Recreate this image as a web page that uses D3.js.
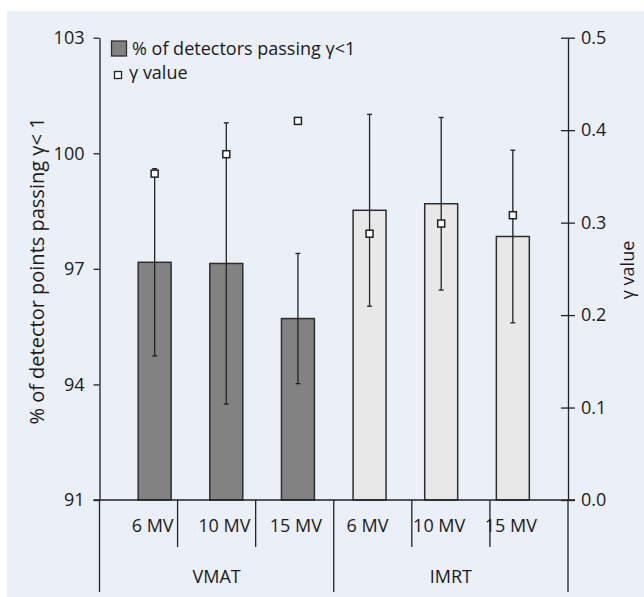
<!DOCTYPE html>
<html>
<head>
<meta charset="utf-8">
<script src="https://cdn.jsdelivr.net/npm/d3@7"></script>
<style>
  body { margin: 0; background: #fff; }
  svg text { font-family: "Open Sans", sans-serif; fill: #1a1a1a; }
</style>
</head>
<body>
<div id="chart"></div>
<script>
// data
const groups = ['VMAT', 'IMRT'];
const energies = ['6 MV', '10 MV', '15 MV'];
const passRate = [97.17, 97.14, 95.71, 98.52, 98.69, 97.84];   // % of detectors passing γ<1
const passSd = [2.43, 3.65, 1.69, 2.49, 2.24, 2.24];
const gammaValue = [0.353, 0.374, 0.410, 0.288, 0.299, 0.308];
const leftTicks = [91, 94, 97, 100, 103];
const rightTicks = [0, 0.1, 0.2, 0.3, 0.4, 0.5];

const width = 644, height = 597;
const margin = { top: 37.7, right: 76, bottom: 97, left: 99.5 };
const plotBottom = height - margin.bottom;   // 500
const plotRight = width - margin.right;      // 568

const rows = [];
groups.forEach((g, gi) => energies.forEach((e, ei) => {
  const i = gi * energies.length + ei;
  rows.push({ key: g + ' ' + e, group: g, energy: e, pass: passRate[i], sd: passSd[i], gamma: gammaValue[i] });
}));

const svg = d3.select('#chart').append('svg')
  .attr('width', width)
  .attr('height', height);

// panel background
svg.append('rect')
  .attr('x', 7).attr('y', 11)
  .attr('width', width - 7).attr('height', height - 11)
  .attr('fill', '#ebeff8');

const x = d3.scaleBand()
  .domain(rows.map(d => d.key))
  .range([margin.left, plotRight])
  .padding(0.54);

const y = d3.scaleLinear()
  .domain([91, 103])
  .range([plotBottom, margin.top]);

const y2 = d3.scaleLinear()
  .domain([0, 0.5])
  .range([plotBottom, margin.top]);

const ink = '#222';

// bars
svg.append('g').selectAll('rect')
  .data(rows)
  .join('rect')
  .attr('x', d => x(d.key))
  .attr('y', d => y(d.pass))
  .attr('width', x.bandwidth())
  .attr('height', d => y(91) - y(d.pass))
  .attr('fill', d => d.group === 'VMAT' ? '#828282' : '#e8e8e8')
  .attr('stroke', '#2e2e2e')
  .attr('stroke-width', 1.5);

// error bars
const cap = 2.5;
const err = svg.append('g').attr('stroke', ink).attr('stroke-width', 1.3);
rows.forEach(d => {
  const cx = x(d.key) + x.bandwidth() / 2;
  const top = y(d.pass + d.sd), bot = y(d.pass - d.sd);
  err.append('line').attr('x1', cx).attr('x2', cx).attr('y1', top).attr('y2', bot);
  err.append('line').attr('x1', cx - cap).attr('x2', cx + cap).attr('y1', top).attr('y2', top);
  err.append('line').attr('x1', cx - cap).attr('x2', cx + cap).attr('y1', bot).attr('y2', bot);
});

// gamma markers (right axis)
svg.append('g').selectAll('rect')
  .data(rows)
  .join('rect')
  .attr('x', d => x(d.key) + x.bandwidth() / 2 - 3.5)
  .attr('y', d => y2(d.gamma) - 3.5)
  .attr('width', 7)
  .attr('height', 7)
  .attr('fill', '#fff')
  .attr('stroke', ink)
  .attr('stroke-width', 1.5);

// left axis
const gl = svg.append('g')
  .attr('transform', `translate(${margin.left},0)`)
  .call(d3.axisLeft(y).tickValues(leftTicks).tickSize(6).tickSizeOuter(0).tickPadding(9));
gl.selectAll('text').style('font-size', '18px').attr('font-family', null);

// right axis, ticks cross the line
const gr = svg.append('g')
  .attr('transform', `translate(${plotRight},0)`)
  .call(d3.axisRight(y2).tickValues(rightTicks).tickFormat(d3.format('.1f')).tickSize(7).tickSizeOuter(0).tickPadding(6));
gr.selectAll('.tick line').attr('x1', -7);
gr.selectAll('text').style('font-size', '18px').attr('font-family', null);

[gl, gr].forEach(g => {
  g.selectAll('path, line').attr('stroke', ink).attr('stroke-width', 1.3);
  g.selectAll('text').style('fill', '#1a1a1a');
});

// baseline
svg.append('line')
  .attr('x1', margin.left - 6).attr('x2', plotRight + 7)
  .attr('y1', plotBottom).attr('y2', plotBottom)
  .attr('stroke', ink).attr('stroke-width', 1.3);

// category separators
const x0 = i => margin.left + i * (plotRight - margin.left) / rows.length;
d3.range(rows.length + 1).forEach(i => {
  const long = i % energies.length === 0;
  svg.append('line')
    .attr('x1', x0(i)).attr('x2', x0(i))
    .attr('y1', plotBottom).attr('y2', long ? 592 : 547)
    .attr('stroke', ink).attr('stroke-width', 1.3);
});

// category and group labels
svg.append('g').selectAll('text')
  .data(rows)
  .join('text')
  .attr('x', d => x(d.key) + x.bandwidth() / 2 - 2)
  .attr('y', 532)
  .attr('text-anchor', 'middle')
  .style('font-size', '18px')
  .text(d => d.energy);

svg.append('g').selectAll('text')
  .data(groups)
  .join('text')
  .attr('x', (d, i) => (x0(i * 3) + x0(i * 3 + 3)) / 2)
  .attr('y', 583)
  .attr('text-anchor', 'middle')
  .style('font-size', '18px')
  .text(d => d);

// axis titles
svg.append('text')
  .attr('transform', 'translate(44,271) rotate(-90)')
  .attr('text-anchor', 'middle')
  .style('font-size', '20px')
  .text('% of detector points passing γ< 1');

svg.append('text')
  .attr('transform', 'translate(634,270) rotate(-90)')
  .attr('text-anchor', 'middle')
  .style('font-size', '18px')
  .text('γ value');

// legend
const lg = svg.append('g');
lg.append('rect')
  .attr('x', 111.5).attr('y', 41)
  .attr('width', 15).attr('height', 15)
  .attr('fill', '#828282').attr('stroke', '#2e2e2e').attr('stroke-width', 1.3);
lg.append('text').attr('x', 132).attr('y', 55)
  .style('font-size', '18px').text('% of detectors passing γ<1');
lg.append('rect')
  .attr('x', 114.5).attr('y', 71.5)
  .attr('width', 7).attr('height', 7)
  .attr('fill', '#fff').attr('stroke', ink).attr('stroke-width', 1.3);
lg.append('text').attr('x', 129).attr('y', 78.5)
  .style('font-size', '18px').text('γ value');
</script>
</body>
</html>
